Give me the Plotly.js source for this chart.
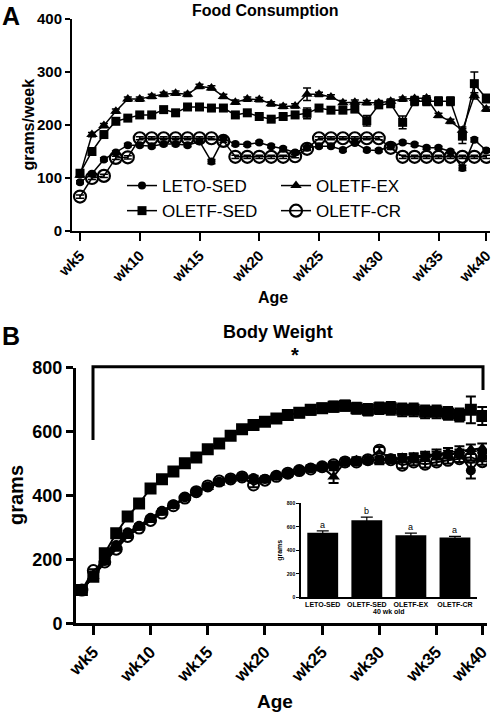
<!DOCTYPE html>
<html>
<head>
<meta charset="utf-8">
<script src="https://cdn.plot.ly/plotly-3.0.1.min.js"></script>
<style>
html,body{margin:0;padding:0;background:#fff;}
#chart{width:495px;height:713px;}
</style>
</head>
<body>
<div id="chart"></div>
<script>
// ---------- DATA ----------
// Panel A: weekly food consumption (grams/week)
var weeksA = ['wk5','wk6','wk7','wk8','wk9','wk10','wk11','wk12','wk13','wk14','wk15','wk16','wk17','wk18','wk19','wk20','wk21','wk22','wk23','wk24','wk25','wk26','wk27','wk28','wk29','wk30','wk31','wk32','wk33','wk34','wk35','wk36','wk37','wk38','wk40'];
var letoSedA  = [92,108,135,148,162,162,160,164,164,162,169,131,174,164,163,167,160,155,148,157,160,160,153,166,153,152,160,167,163,157,157,150,119,172,152];
var oletfSedA = [109,150,182,207,213,219,219,229,223,234,234,232,232,219,223,216,211,216,219,222,232,228,228,230,208,238,240,205,245,245,245,245,179,278,250];
var oletfExA  = [105,182,199,226,249,249,254,258,260,258,273,270,254,243,249,248,240,235,236,258,258,253,242,243,242,242,245,249,250,251,218,207,190,255,230];
var oletfCrA  = [65,100,104,138,139,175,175,175,175,175,175,175,170,140,140,140,140,140,141,155,175,175,175,175,175,175,157,140,140,140,140,140,140,140,140];
var letoSedAErr  = [3,3,3,3,3,3,3,3,3,3,3,4,3,3,3,3,3,3,3,3,3,3,3,3,3,3,3,3,3,3,3,3,5,4,3];
var oletfSedAErr = [4,4,4,4,4,4,4,4,4,4,4,4,4,4,4,4,4,4,4,10,5,5,5,5,10,5,5,12,8,8,8,8,14,22,8];
var oletfExAErr  = [3,4,4,4,4,4,4,4,4,4,4,4,4,4,4,4,4,4,4,12,4,4,4,4,4,4,4,4,4,4,4,4,6,6,4];
var oletfCrAErr  = [3,3,3,3,3,3,3,3,3,3,3,3,3,3,3,3,3,3,3,3,3,3,3,3,3,3,3,3,3,3,3,3,3,3,3];

// Panel B: body weight (grams)
var weeksB = ['wk4','wk5','wk6','wk7','wk8','wk9','wk10','wk11','wk12','wk13','wk14','wk15','wk16','wk17','wk18','wk19','wk20','wk21','wk22','wk23','wk24','wk25','wk26','wk27','wk28','wk29','wk30','wk31','wk32','wk33','wk34','wk35','wk36','wk37','wk38','wk40'];
var letoSedB  = [104,150,195,245,285,305,330,352,372,394,412,428,443,452,458,455,452,462,470,478,485,490,495,505,506,510,512,516,515,518,522,525,528,532,478,522];
var oletfSedB = [104,146,219,282,334,375,422,451,475,501,519,545,563,587,607,621,631,641,652,659,668,673,678,681,673,668,673,673,668,668,662,662,657,652,668,649];
var oletfExB  = [104,148,190,238,278,300,328,348,368,392,410,426,440,452,456,452,450,460,468,478,485,488,459,505,510,512,508,514,518,520,525,530,535,540,545,548];
var oletfCrB  = [104,165,192,232,272,298,322,345,368,392,412,430,445,452,458,433,448,460,470,478,483,490,496,505,505,512,542,512,495,505,498,505,510,515,520,506];
var letoSedBErr  = [4,4,5,5,5,5,5,5,5,6,6,6,6,6,6,7,7,7,8,8,8,8,9,9,9,10,10,10,10,10,10,12,12,12,25,15];
var oletfSedBErr = [4,5,5,6,6,7,7,8,8,8,9,9,10,10,10,11,12,12,13,14,15,15,16,16,17,18,18,20,20,20,20,20,20,20,42,28];
var oletfExBErr  = [4,4,5,5,5,5,5,5,6,6,6,6,7,7,7,8,8,8,9,9,10,10,20,10,10,10,10,12,12,12,12,14,14,14,15,15];
var oletfCrBErr  = [4,4,5,5,5,5,5,5,6,6,6,6,6,6,7,7,7,7,8,8,8,8,9,9,9,10,10,10,10,10,10,10,10,10,10,10];

// Inset: body weight at 40 wk old
var groups  = ['LETO-SED','OLETF-SED','OLETF-EX','OLETF-CR'];
var bw40    = [550, 655, 528, 509];
var bw40Err = [15, 28, 18, 10];
var letters = ['a','b','a','a'];

var tickWeeks = ['wk5','wk10','wk15','wk20','wk25','wk30','wk35','wk40'];

// ---------- STYLE ----------
var FONT = 'Liberation Sans, Arial, Helvetica, sans-serif';
var K = '#000';

function errA(arr){ return {type:'data', array:arr, visible:true, color:K, thickness:1.5, width:4}; }
function errB(arr){ return {type:'data', array:arr, visible:true, color:K, thickness:2, width:5}; }

var traces = [
  // Panel A: left legend column = LETO-SED, OLETF-SED ; right column = OLETF-EX, OLETF-CR
  {x:weeksA, y:letoSedA, error_y:errA(letoSedAErr), name:'LETO-SED', legend:'legend', legendgroup:'g1', type:'scatter', mode:'lines+markers',
   line:{color:K,width:1.5}, marker:{symbol:'circle',size:8,color:K}, xaxis:'x', yaxis:'y'},
  {x:weeksA, y:oletfSedA, error_y:errA(oletfSedAErr), name:'OLETF-SED', legend:'legend', legendgroup:'g2', type:'scatter', mode:'lines+markers',
   line:{color:K,width:1.5}, marker:{symbol:'square',size:9,color:K}, xaxis:'x', yaxis:'y'},
  {x:weeksA, y:oletfExA, error_y:errA(oletfExAErr), name:'OLETF-EX', legend:'legend2', legendgroup:'g3', type:'scatter', mode:'lines+markers',
   line:{color:K,width:1.5}, marker:{symbol:'triangle-up',size:10,color:K}, xaxis:'x', yaxis:'y'},
  {x:weeksA, y:oletfCrA, error_y:errA(oletfCrAErr), name:'OLETF-CR', legend:'legend2', legendgroup:'g4', type:'scatter', mode:'lines+markers',
   line:{color:K,width:1.5}, marker:{symbol:'circle-open',size:12,color:K,line:{color:K,width:2.2}}, xaxis:'x', yaxis:'y'},

  // Panel B
  {x:weeksB, y:letoSedB, error_y:errB(letoSedBErr), name:'LETO-SED', showlegend:false, type:'scatter', mode:'lines+markers',
   line:{color:K,width:2}, marker:{symbol:'circle',size:10,color:K}, xaxis:'x2', yaxis:'y2'},
  {x:weeksB, y:oletfExB, error_y:errB(oletfExBErr), name:'OLETF-EX', showlegend:false, type:'scatter', mode:'lines+markers',
   line:{color:K,width:2}, marker:{symbol:'triangle-up',size:11,color:K}, xaxis:'x2', yaxis:'y2'},
  {x:weeksB, y:oletfCrB, error_y:errB(oletfCrBErr), name:'OLETF-CR', showlegend:false, type:'scatter', mode:'lines+markers',
   line:{color:K,width:2}, marker:{symbol:'circle-open',size:11,color:K,line:{color:K,width:2}}, xaxis:'x2', yaxis:'y2'},
  {x:weeksB, y:oletfSedB, error_y:errB(oletfSedBErr), name:'OLETF-SED', showlegend:false, type:'scatter', mode:'lines+markers',
   line:{color:K,width:2}, marker:{symbol:'square',size:12,color:K}, xaxis:'x2', yaxis:'y2'},

  // Inset bar chart
  {x:groups, y:bw40, type:'bar', showlegend:false, marker:{color:K, line:{width:0}},
   error_y:{type:'data', array:bw40Err, visible:true, color:K, thickness:1.2, width:6},
   xaxis:'x3', yaxis:'y3'}
];

var W = 495, H = 713;
function px(x){ return x / W; }
function py(y){ return 1 - y / H; }

var boldTick = function(s){ return {family:FONT, size:s, color:K, weight:'bold'}; };
function legendBox(xLeft){
  return {
    orientation:'v', x:px(xLeft), y:py(168), xanchor:'left', yanchor:'top',
    font:{family:FONT, size:17, color:K}, bgcolor:'rgba(0,0,0,0)', borderwidth:0,
    tracegroupgap:2, itemclick:false, itemdoubleclick:false, traceorder:'normal'
  };
}

var layout = {
  width:W, height:H,
  margin:{l:0,r:0,t:0,b:0,pad:0},
  paper_bgcolor:'#fff', plot_bgcolor:'rgba(0,0,0,0)',
  font:{family:FONT, color:K},
  showlegend:true,
  legend:legendBox(122),
  legend2:legendBox(276),
  bargap:0.3,
  // Panel A axes
  xaxis:{
    domain:[px(72), px(490)], anchor:'y', type:'category',
    categoryorder:'array', categoryarray:weeksA,
    range:[-0.67, 34.31], tickmode:'array', tickvals:tickWeeks, ticktext:tickWeeks,
    tickangle:-45, tickfont:boldTick(15),
    ticks:'outside', ticklen:8, tickwidth:2, tickcolor:K,
    showline:true, linewidth:2, linecolor:K, showgrid:false, zeroline:false, fixedrange:true
  },
  yaxis:{
    domain:[py(231), py(19)], anchor:'x',
    range:[0,400], tickvals:[0,100,200,300,400], tickfont:boldTick(15),
    ticks:'outside', ticklen:5, tickwidth:2, tickcolor:K,
    showline:true, linewidth:2, linecolor:K, showgrid:false, zeroline:false, fixedrange:true
  },
  // Panel B axes
  xaxis2:{
    domain:[px(76), px(487)], anchor:'y2', type:'category',
    categoryorder:'array', categoryarray:weeksB,
    range:[-0.516, 35.41], tickmode:'array', tickvals:tickWeeks, ticktext:tickWeeks,
    tickangle:-45, tickfont:boldTick(17),
    ticks:'outside', ticklen:9, tickwidth:3, tickcolor:K,
    showline:true, linewidth:3, linecolor:K, showgrid:false, zeroline:false, fixedrange:true
  },
  yaxis2:{
    domain:[py(623.3), py(367.7)], anchor:'x2',
    range:[0,800], tickvals:[0,200,400,600,800], tickfont:boldTick(18),
    ticks:'outside', ticklen:7, tickwidth:3, tickcolor:K,
    showline:true, linewidth:3, linecolor:K, showgrid:false, zeroline:false, fixedrange:true
  },
  // Inset axes
  xaxis3:{
    domain:[px(300.7), px(477)], anchor:'y3', type:'category',
    categoryorder:'array', categoryarray:groups, range:[-0.5,3.5],
    tickfont:boldTick(7), ticks:'', showline:true, linewidth:1.5, linecolor:K,
    showgrid:false, zeroline:false, fixedrange:true,
    title:{text:'40 wk old', font:{family:FONT, size:7, color:K, weight:'bold'}, standoff:2}
  },
  yaxis3:{
    domain:[py(597.3), py(503.3)], anchor:'x3',
    range:[0,800], tickvals:[0,200,400,600,800], tickfont:boldTick(5),
    ticks:'outside', ticklen:3, tickwidth:1.2, tickcolor:K,
    showline:true, linewidth:1.5, linecolor:K, showgrid:false, zeroline:false, fixedrange:true,
    title:{text:'grams', font:{family:FONT, size:7, color:K, weight:'bold'}, standoff:3}
  },
  shapes:[
    {type:'path', xref:'paper', yref:'paper',
     path:'M '+px(93)+','+py(440)+' L '+px(93)+','+py(366.7)+' L '+px(483)+','+py(366.7)+' L '+px(483)+','+py(390),
     line:{color:K, width:3}, fillcolor:'rgba(0,0,0,0)'}
  ],
  annotations:[
    {text:'A', xref:'paper', yref:'paper', x:px(11), y:1, xanchor:'center', yanchor:'top', showarrow:false,
     font:{family:FONT, size:25, color:K, weight:'bold'}},
    {text:'Food Consumption', xref:'paper', yref:'paper', x:px(265), y:py(10), xanchor:'center', yanchor:'middle', showarrow:false,
     font:{family:FONT, size:16, color:K, weight:'bold'}},
    {text:'grams/week', xref:'paper', yref:'paper', x:px(27.5), y:py(125), xanchor:'center', yanchor:'middle', textangle:-90, showarrow:false,
     font:{family:FONT, size:16, color:K, weight:'bold'}},
    {text:'Age', xref:'paper', yref:'paper', x:px(272.5), y:py(297), xanchor:'center', yanchor:'middle', showarrow:false,
     font:{family:FONT, size:16, color:K, weight:'bold'}},
    {text:'B', xref:'paper', yref:'paper', x:px(11), y:py(336), xanchor:'center', yanchor:'middle', showarrow:false,
     font:{family:FONT, size:25, color:K, weight:'bold'}},
    {text:'Body Weight', xref:'paper', yref:'paper', x:px(277.5), y:py(332), xanchor:'center', yanchor:'middle', showarrow:false,
     font:{family:FONT, size:18, color:K, weight:'bold'}},
    {text:'*', xref:'paper', yref:'paper', x:px(295), y:py(355), xanchor:'center', yanchor:'middle', showarrow:false,
     font:{family:FONT, size:20, color:K, weight:'bold'}},
    {text:'grams', xref:'paper', yref:'paper', x:px(16), y:py(495), xanchor:'center', yanchor:'middle', textangle:-90, showarrow:false,
     font:{family:FONT, size:20, color:K, weight:'bold'}},
    {text:'Age', xref:'paper', yref:'paper', x:px(275), y:py(701), xanchor:'center', yanchor:'middle', showarrow:false,
     font:{family:FONT, size:19, color:K, weight:'bold'}}
  ]
};

// significance letters above inset bars
for (var i = 0; i < groups.length; i++) {
  layout.annotations.push({
    text:letters[i], xref:'x3', yref:'y3', x:groups[i], y:bw40[i] + bw40Err[i],
    xanchor:'center', yanchor:'bottom', showarrow:false, yshift:-1,
    font:{family:FONT, size:9, color:K}
  });
}

Plotly.newPlot('chart', traces, layout, {displayModeBar:false, staticPlot:true});
</script>
</body>
</html>
